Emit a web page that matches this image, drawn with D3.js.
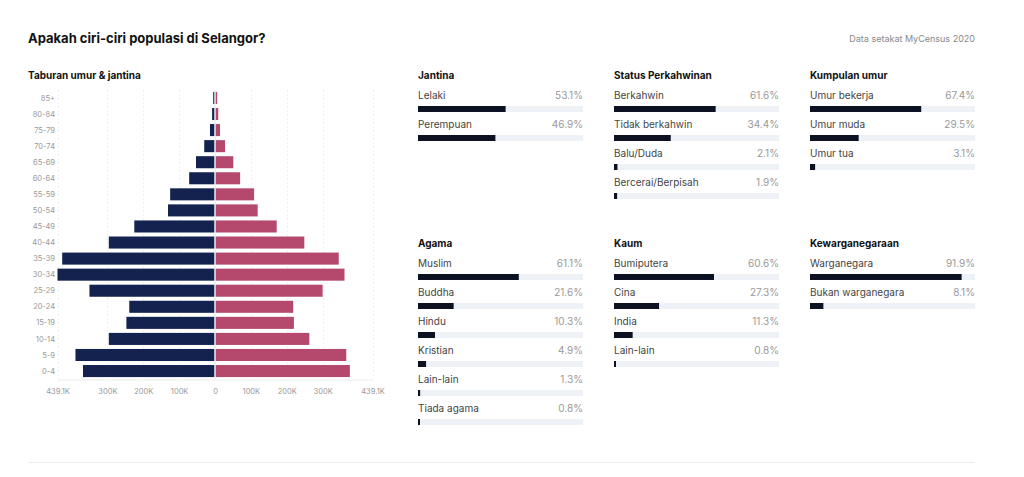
<!DOCTYPE html>
<html>
<head>
<meta charset="utf-8">
<script src="https://cdn.jsdelivr.net/npm/d3@7"></script>
<style>
  html, body { margin: 0; padding: 0; background: #fff; }
  svg { display: block; font-family: Inter, "Noto Sans", sans-serif; }
</style>
</head>
<body>
<svg id="chart" width="1024" height="477"></svg>
<script>
// ---- Data ----
const ageGroups = ["85+","80-84","75-79","70-74","65-69","60-64","55-59","50-54","45-49","40-44","35-39","30-34","25-29","20-24","15-19","10-14","5-9","0-4"];
const maleValues   = [5000, 8000, 14000, 30000, 53000, 72000, 125000, 131000, 225000, 296000, 426000, 439100, 350000, 239000, 247000, 296000, 389000, 368000];
const femaleValues = [6000, 9000, 14000, 28000, 51000, 70000, 109000, 119000, 172000, 249000, 345000, 361000, 300000, 218000, 220000, 263000, 366000, 376000];
const pyramidMax = 439100;
const pyramidTicks = [-439100, -300000, -200000, -100000, 0, 100000, 200000, 300000, 439100];

const jantinaLabels = ["Lelaki", "Perempuan"];
const jantinaValues = [53.1, 46.9];
const kahwinLabels = ["Berkahwin", "Tidak berkahwin", "Balu/Duda", "Bercerai/Berpisah"];
const kahwinValues = [61.6, 34.4, 2.1, 1.9];
const umurLabels = ["Umur bekerja", "Umur muda", "Umur tua"];
const umurValues = [67.4, 29.5, 3.1];
const agamaLabels = ["Muslim", "Buddha", "Hindu", "Kristian", "Lain-lain", "Tiada agama"];
const agamaValues = [61.1, 21.6, 10.3, 4.9, 1.3, 0.8];
const kaumLabels = ["Bumiputera", "Cina", "India", "Lain-lain"];
const kaumValues = [60.6, 27.3, 11.3, 0.8];
const wargaLabels = ["Warganegara", "Bukan warganegara"];
const wargaValues = [91.9, 8.1];

// ---- Drawing ----
const svg = d3.select("#chart");
const NAVY = "#13224f", PINK = "#b5496d", DARK = "#0c1222", TRACK = "#eef1f6";

svg.append("text").attr("x", 28).attr("y", 43)
  .attr("font-size", 13).attr("font-weight", 700).attr("fill", "#111")
  .text("Apakah ciri-ciri populasi di Selangor?");
svg.append("text").attr("x", 975).attr("y", 42).attr("text-anchor", "end")
  .attr("font-size", 9).attr("fill", "#888")
  .text("Data setakat MyCensus 2020");

svg.append("line").attr("x1", 28).attr("x2", 975).attr("y1", 462.5).attr("y2", 462.5)
  .attr("stroke", "#ececec");

// Pyramid
svg.append("text").attr("x", 28).attr("y", 79)
  .attr("font-size", 10).attr("font-weight", 700).attr("fill", "#111")
  .text("Taburan umur & jantina");

const x = d3.scaleLinear().domain([-pyramidMax, pyramidMax]).range([57.5, 372.5]);
const y = d3.scaleBand().domain(ageGroups).range([90, 379]).paddingInner(0.25).paddingOuter(0.12);

const g = svg.append("g");
// grid
g.selectAll("line.grid").data(pyramidTicks).join("line")
  .attr("x1", d => Math.round(x(d)) + 0.5).attr("x2", d => Math.round(x(d)) + 0.5)
  .attr("y1", 90).attr("y2", 379)
  .attr("stroke", "#f1f1f1").attr("stroke-dasharray", "2,2");

g.selectAll("rect.m").data(ageGroups).join("rect")
  .attr("x", (d, i) => x(-maleValues[i]))
  .attr("y", d => y(d))
  .attr("width", (d, i) => x(0) - 0.5 - x(-maleValues[i]))
  .attr("height", y.bandwidth())
  .attr("fill", NAVY);
g.selectAll("rect.f").data(ageGroups).join("rect")
  .attr("x", x(0) + 0.5)
  .attr("y", d => y(d))
  .attr("width", (d, i) => x(femaleValues[i]) - x(0) - 0.5)
  .attr("height", y.bandwidth())
  .attr("fill", PINK);

g.append("line").attr("x1", x(0)).attr("x2", x(0)).attr("y1", 90).attr("y2", 379)
  .attr("stroke", "#e9e9ee").attr("stroke-width", 1);

g.selectAll("text.age").data(ageGroups).join("text")
  .attr("x", 55).attr("y", d => y(d) + y.bandwidth() / 2)
  .attr("dy", "0.35em").attr("text-anchor", "end")
  .attr("font-size", 7.5).attr("fill", "#999")
  .text(d => d);

const axis = d3.axisBottom(x).tickValues(pyramidTicks).tickSize(0).tickPadding(9)
  .tickFormat(d => {
    const a = Math.abs(d);
    if (a === 0) return "0";
    return (a % 100000 === 0) ? (a / 1000) + "K" : (a / 1000).toFixed(1) + "K";
  });
const ax = svg.append("g").attr("transform", "translate(0,379.5)").call(axis);
ax.select(".domain").attr("stroke", "#ececec");
ax.selectAll("text").attr("font-size", 7.5).attr("fill", "#999").attr("font-family", "Inter, sans-serif");

// Small bar panels
function panel(x0, y0, title, labels, values) {
  const w = 165;
  const s = d3.scaleLinear().domain([0, 100]).range([0, w]);
  const p = svg.append("g").attr("transform", `translate(${x0},${y0})`);
  p.append("text").attr("x", 0).attr("y", 4).attr("font-size", 10).attr("font-weight", 700)
    .attr("fill", "#111").text(title);
  const rows = p.selectAll("g.row").data(labels).join("g")
    .attr("transform", (d, i) => `translate(0,${20.5 + i * 29})`);
  rows.append("text").attr("x", 0).attr("y", 0).attr("dy", "0.35em")
    .attr("font-size", 10).attr("fill", "#444").text(d => d);
  rows.append("text").attr("x", w).attr("y", 0).attr("dy", "0.35em").attr("text-anchor", "end")
    .attr("font-size", 10).attr("fill", "#999").text((d, i) => values[i].toFixed(1) + "%");
  rows.append("rect").attr("x", 0).attr("y", 10.5).attr("width", w).attr("height", 6).attr("fill", TRACK);
  rows.append("rect").attr("x", 0).attr("y", 10.5).attr("width", (d, i) => Math.max(2, s(values[i])))
    .attr("height", 6).attr("fill", DARK);
}
panel(418, 75, "Jantina", jantinaLabels, jantinaValues);
panel(614, 75, "Status Perkahwinan", kahwinLabels, kahwinValues);
panel(810, 75, "Kumpulan umur", umurLabels, umurValues);
panel(418, 243, "Agama", agamaLabels, agamaValues);
panel(614, 243, "Kaum", kaumLabels, kaumValues);
panel(810, 243, "Kewarganegaraan", wargaLabels, wargaValues);
</script>
</body>
</html>
